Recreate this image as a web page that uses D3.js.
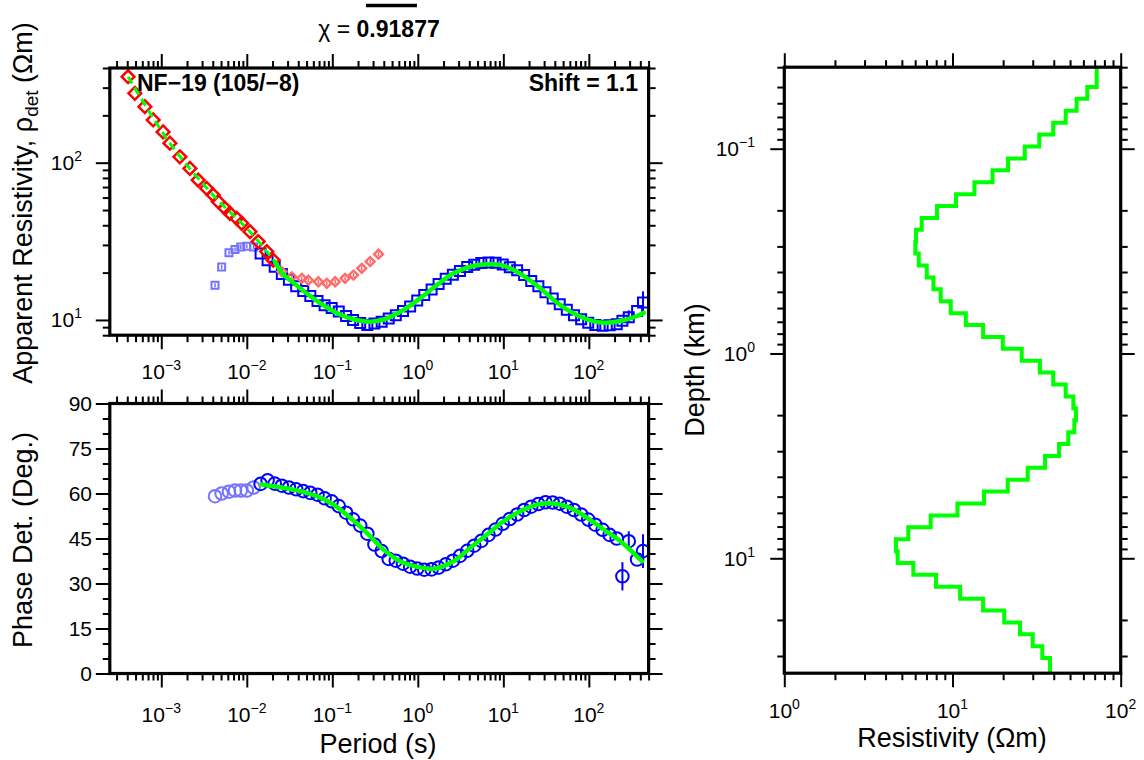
<!DOCTYPE html>
<html><head><meta charset="utf-8">
<script src="https://cdn.jsdelivr.net/npm/d3@7"></script>
<style>
body{margin:0;background:#fff}
svg text{font-family:"Liberation Sans",Arial,Helvetica,sans-serif;fill:#000}
</style>
</head><body>
<svg id="c" width="1144" height="760"></svg>
<script>
// ---------------- DATA ----------------
// Red (high-frequency, fitted) apparent resistivity diamonds
const redPeriods = [4.09e-4, 4.91e-4, 6.43e-4, 8.04e-4, 1.05e-3, 1.26e-3, 1.65e-3, 2.16e-3, 2.70e-3, 3.39e-3, 4.05e-3, 4.64e-3, 5.55e-3, 6.35e-3, 7.62e-3, 8.71e-3, 1.09e-2, 1.36e-2, 1.71e-2, 2.04e-2];
const redRho = [352, 276, 227, 187, 157, 133, 109, 92, 77.6, 68.7, 62.3, 56.5, 51.3, 47.7, 44.3, 41.2, 36.4, 31.5, 27.2, 24.0];
// Masked red diamonds
const salmonPeriods = [0.0257, 0.0336, 0.0440, 0.0525, 0.0687, 0.0862, 0.108, 0.141, 0.177, 0.221, 0.277, 0.347];
const salmonRho = [20.3, 18.8, 18.4, 17.9, 17.5, 17.1, 17.5, 18.4, 19.3, 21.3, 23.5, 26.2];
// Masked blue points
const lightPeriods = [4.25e-3, 5.08e-3, 6.19e-3, 7.28e-3, 8.5e-3, 1.0e-2, 1.2e-2];
const lightRho = [16.6, 21.7, 26.8, 28.1, 29.1, 29.4, 29.1];
const lightPhase = [59.1, 60.0, 60.6, 61.0, 61.0, 61.0, 62.0];
// Blue data
const bluePeriods = [0.0145, 0.0175, 0.0212, 0.0257, 0.0311, 0.0378, 0.0457, 0.0553, 0.0671, 0.0813, 0.0984,
  0.119, 0.145, 0.175, 0.212, 0.257, 0.311, 0.378, 0.457, 0.553, 0.671, 0.813, 0.984,
  1.19, 1.45, 1.75, 2.12, 2.57, 3.11, 3.78, 4.57, 5.53, 6.71, 8.13, 9.84,
  11.9, 14.5, 17.5, 21.2, 25.7, 31.1, 37.8, 45.7, 55.3, 67.1, 81.3, 98.4,
  119, 145, 175, 212, 247, 293, 367, 430];
const blueRho = [26.5, 24.0, 21.8, 19.6, 18.0, 16.4, 15.3, 14.2, 13.2, 12.4, 11.9,
  11.3, 10.6, 10.0, 9.55, 9.3, 9.5, 9.75, 10.2, 10.7, 11.4, 12.2, 13.3,
  14.4, 15.6, 16.9, 18.3, 19.4, 20.5, 21.7, 22.4, 23.0, 23.2, 23.1, 22.5,
  21.6, 20.7, 19.3, 17.7, 16.4, 15.0, 13.7, 12.6, 11.6, 10.7, 10.1, 9.6,
  9.3, 9.2, 9.25, 9.4, 9.9, 10.4, 11.4, 12.9];
const bluePhase = [63.2, 64.4, 63.3, 62.6, 62.0, 61.4, 60.8, 60.2, 59.6, 58.4, 57.4,
  55.8, 53.6, 51.4, 49.3, 46.6, 43.0, 40.8, 38.2, 37.6, 36.6, 35.6, 35.0,
  34.6, 34.7, 35.3, 36.4, 37.6, 39.2, 40.9, 42.6, 44.2, 46.2, 48.0, 49.9,
  51.5, 53.0, 54.5, 55.6, 56.5, 57.1, 57.0, 56.6, 55.6, 54.5, 53.0, 51.3,
  49.6, 47.9, 46.2, 45.0, 32.4, 44.1, 38.0, 40.8];
// Error bars
const rhoErrPeriods = [293, 430];
const rhoErrLow = [9.6, 11.0];
const rhoErrHigh = [11.5, 15.2];
const phaseErrPeriods = [247, 293, 430];
const phaseErrLow = [27.7, 40.8, 35.2];
const phaseErrHigh = [37.1, 47.4, 46.4];
// Model response curves
const modelDashPeriods = [4.09e-4, 1.26e-3, 4.02e-3, 0.0109, 0.0214];
const modelDashRho = [352, 133, 62.4, 36.4, 23.4];
const modelPeriods = [0.0214, 0.0265, 0.0367, 0.0549, 0.0719, 0.113, 0.177, 0.277, 0.435, 0.681, 1.07, 1.67, 2.62, 4.11, 6.44, 9.23, 13.2, 19.0, 27.1, 38.8, 60.9, 95.5, 149, 234, 368, 440];
const modelRho = [23.4, 19.6, 16.9, 14.2, 12.8, 11.08, 10.1, 9.75, 10.25, 11.58, 13.75, 16.7, 19.8, 21.8, 22.6, 22.4, 20.8, 18.4, 15.9, 13.4, 11.3, 10.1, 9.61, 9.85, 10.6, 11.1];
const modelPhasePeriods = [0.0149, 0.0267, 0.0419, 0.0659, 0.103, 0.162, 0.253, 0.397, 0.622, 0.976, 1.53, 2.62, 4.11, 6.44, 10.1, 15.8, 24.8, 38.8, 60.9, 95.5, 149, 234, 421];
const modelPhase = [63.0, 61.9, 60.8, 59.1, 56.3, 51.9, 46.9, 41.3, 37.4, 35.6, 34.9, 37.4, 41.9, 46.3, 50.8, 54.1, 56.3, 56.7, 55.2, 51.9, 48.0, 44.1, 37.4];
// Layered resistivity model (layer boundaries in km, resistivity per layer in Ohm-m)
const layerDepths = [0.050, 0.0571, 0.0653, 0.0747, 0.0853, 0.0975, 0.1116, 0.1276, 0.1459, 0.1667, 0.1905, 0.2178, 0.2489, 0.2845, 0.3252, 0.3718, 0.4254, 0.4862, 0.5559, 0.6353, 0.7261, 0.830, 0.9487, 1.084, 1.239, 1.418, 1.621, 1.853, 2.118, 2.421, 2.767, 3.163, 3.615, 4.13, 4.72, 5.40, 6.18, 7.06, 8.07, 9.23, 10.55, 12.05, 13.78, 15.75, 18.00, 20.57, 23.5, 26.9, 30.7];
const layerRho = [72, 63.3, 54.7, 47.1, 39.7, 32.8, 26.9, 21.4, 17.3, 13.5, 10.5, 8.09, 6.56, 6.07, 6.01, 6.3, 7.03, 7.70, 8.51, 9.76, 12.0, 15.2, 19.9, 25.8, 33.1, 39.7, 47.1, 52.3, 54.2, 53.0, 48.8, 43.0, 35.5, 28.0, 21.3, 15.4, 10.7, 7.42, 5.46, 4.61, 4.72, 5.85, 7.98, 11.1, 15.2, 20.3, 25.2, 30.0, 34.2, 38.0];
// Axes
const periodDomain = [2.5e-4, 500];
const rhoDomain = [8, 400];
const phaseDomain = [0, 90];
const phaseTicks = [0, 15, 30, 45, 60, 75, 90];
const modelRhoDomain = [1, 100];
const depthDomain = [0.04, 36.4];

// ---------------- DRAW ----------------
const svg = d3.select('#c');
const GREEN = '#00ff00', BLUE = '#0000ff', LBLUE = '#7373ff', RED = '#ff0000', SALMON = '#ff6a6a';

const x = d3.scaleLog().domain(periodDomain).range([109.8, 648.6]);
const yR = d3.scaleLog().domain(rhoDomain).range([335.2, 68]);
const yP = d3.scaleLinear().domain(phaseDomain).range([673.5, 403.5]);
const xM = d3.scaleLog().domain(modelRhoDomain).range([784.3, 1120.7]);
const yM = d3.scaleLog().domain(depthDomain).range([67.2, 673.2]);

const isMajor = v => Math.abs(Math.log10(v) - Math.round(Math.log10(v))) < 1e-6;
const supMap = n => (n < 0 ? '\u2212' + (-n) : '' + n);

function frameTicks(g, xs, ys, xTickVals, yTickVals, xMajorFn, yMajorFn, minorLen, majorLen) {
  const [x0, x1] = xs.range(), [y0, y1] = ys.range();
  const top = Math.min(y0, y1), bot = Math.max(y0, y1);
  const mkAxis = (fn, scale, vals, len, tr) => {
    const a = g.append('g').attr('transform', tr).call(fn(scale).tickValues(vals).tickSize(len).tickFormat(''));
    a.select('.domain').remove();
    a.selectAll('line').attr('stroke', '#000').attr('stroke-width', 2);
  };
  const xMin = xTickVals.filter(v => !xMajorFn(v)), xMaj = xTickVals.filter(xMajorFn);
  const yMin = yTickVals.filter(v => !yMajorFn(v)), yMaj = yTickVals.filter(yMajorFn);
  [[xMin, minorLen], [xMaj, majorLen]].forEach(([vals, len]) => {
    mkAxis(d3.axisTop, xs, vals, len, `translate(0,${top})`);
    mkAxis(d3.axisBottom, xs, vals, len, `translate(0,${bot})`);
  });
  [[yMin, minorLen], [yMaj, majorLen]].forEach(([vals, len]) => {
    mkAxis(d3.axisLeft, ys, vals, len, `translate(${Math.min(x0, x1)},0)`);
    mkAxis(d3.axisRight, ys, vals, len, `translate(${Math.max(x0, x1)},0)`);
  });
  g.append('rect').attr('x', Math.min(x0, x1)).attr('y', top)
    .attr('width', Math.abs(x1 - x0)).attr('height', bot - top)
    .attr('fill', 'none').attr('stroke', '#000').attr('stroke-width', 3.2);
}

function powLabel(g, px, py, v, anchor) {
  const e = Math.round(Math.log10(v));
  const t = g.append('text').attr('x', px).attr('y', py).attr('text-anchor', anchor)
    .attr('font-size', 21);
  t.append('tspan').text('10');
  t.append('tspan').attr('font-size', 14).attr('dy', -9).text(supMap(e));
}

function clip(id, x0, y0, w, h) {
  svg.append('clipPath').attr('id', id).append('rect').attr('x', x0).attr('y', y0).attr('width', w).attr('height', h);
  return svg.append('g').attr('clip-path', `url(#${id})`);
}

// ---- Panel 1: apparent resistivity ----
const gR = clip('cr', 110, 68, 539, 268);
const sq = (s) => d3.symbol(d3.symbolSquare, s)();
// light (masked) squares
gR.selectAll('.ls').data(lightPeriods).join('g')
  .attr('transform', (d, i) => `translate(${x(d)},${yR(lightRho[i])})`)
  .each(function () {
    const s = d3.select(this);
    s.append('path').attr('d', sq(49)).attr('fill', 'none').attr('stroke', LBLUE).attr('stroke-width', 2);
    s.append('line').attr('y1', -2).attr('y2', 2).attr('stroke', LBLUE).attr('stroke-width', 1.5);
  });
// blue squares
gR.selectAll('.bs').data(bluePeriods).join('path')
  .attr('d', sq(100)).attr('transform', (d, i) => `translate(${x(d)},${yR(blueRho[i])})`)
  .attr('fill', 'none').attr('stroke', BLUE).attr('stroke-width', 2);
// rho error bars
gR.selectAll('.re').data(rhoErrPeriods).join('line')
  .attr('x1', d => x(d)).attr('x2', d => x(d))
  .attr('y1', (d, i) => yR(rhoErrLow[i])).attr('y2', (d, i) => yR(rhoErrHigh[i]))
  .attr('stroke', BLUE).attr('stroke-width', 2);
// salmon diamonds
gR.selectAll('.sd').data(salmonPeriods).join('g')
  .attr('transform', (d, i) => `translate(${x(d)},${yR(salmonRho[i])})`)
  .each(function () {
    const s = d3.select(this);
    s.append('path').attr('d', sq(40)).attr('transform', 'rotate(45)').attr('fill', 'none').attr('stroke', SALMON).attr('stroke-width', 2.4);
    s.append('line').attr('y1', -2).attr('y2', 2).attr('stroke', SALMON).attr('stroke-width', 1.5);
  });
// red diamonds
gR.selectAll('.rd').data(redPeriods).join('path')
  .attr('d', sq(81)).attr('transform', (d, i) => `translate(${x(d)},${yR(redRho[i])}) rotate(45)`)
  .attr('fill', 'none').attr('stroke', RED).attr('stroke-width', 2.5);
// model curves
const lineR = d3.line().x(d => x(d[0])).y(d => yR(d[1])).curve(d3.curveCatmullRom);
gR.append('path').datum(modelDashPeriods.map((p, i) => [p, modelDashRho[i]]))
  .attr('d', lineR).attr('fill', 'none').attr('stroke', GREEN).attr('stroke-width', 3).attr('stroke-dasharray', '8,5');
gR.append('path').datum(modelPeriods.map((p, i) => [p, modelRho[i]]))
  .attr('d', lineR).attr('fill', 'none').attr('stroke', GREEN).attr('stroke-width', 4.5).attr('stroke-linecap', 'round');

const gRa = svg.append('g');
frameTicks(gRa, x, yR, x.ticks(), yR.ticks(), isMajor, isMajor, 7, 14);
x.ticks().filter(isMajor).forEach(v => powLabel(gRa, x(v), 379, v, 'middle'));
yR.ticks().filter(isMajor).forEach(v => powLabel(gRa, 82, yR(v) + 7.5, v, 'end'));

// ---- Panel 2: phase ----
const gP = clip('cp', 110, 404, 539, 270);
gP.selectAll('.lc').data(lightPeriods).join('circle')
  .attr('cx', d => x(d)).attr('cy', (d, i) => yP(lightPhase[i])).attr('r', 6.3)
  .attr('fill', 'none').attr('stroke', LBLUE).attr('stroke-width', 2);
gP.selectAll('.bc').data(bluePeriods).join('circle')
  .attr('cx', d => x(d)).attr('cy', (d, i) => yP(bluePhase[i])).attr('r', 6.3)
  .attr('fill', 'none').attr('stroke', BLUE).attr('stroke-width', 2);
gP.selectAll('.pe').data(phaseErrPeriods).join('line')
  .attr('x1', d => x(d)).attr('x2', d => x(d))
  .attr('y1', (d, i) => yP(phaseErrLow[i])).attr('y2', (d, i) => yP(phaseErrHigh[i]))
  .attr('stroke', BLUE).attr('stroke-width', 2);
gP.append('path').datum(modelPhasePeriods.map((p, i) => [p, modelPhase[i]]))
  .attr('d', d3.line().x(d => x(d[0])).y(d => yP(d[1])).curve(d3.curveCatmullRom))
  .attr('fill', 'none').attr('stroke', GREEN).attr('stroke-width', 4.5).attr('stroke-linecap', 'round');

const gPa = svg.append('g');
const phaseAll = d3.range(0, 91, 5);
frameTicks(gPa, x, yP, x.ticks(), phaseAll, isMajor, v => phaseTicks.includes(v), 7, 14);
x.ticks().filter(isMajor).forEach(v => powLabel(gPa, x(v), 722, v, 'middle'));
phaseTicks.forEach(v => gPa.append('text').attr('x', 92).attr('y', yP(v) + 7.5)
  .attr('text-anchor', 'end').attr('font-size', 21).text(v));

// ---- Panel 3: model ----
const gM = clip('cm', 784, 67, 337, 607);
const stepPts = [];
layerRho.forEach((r, i) => {
  const top = i === 0 ? depthDomain[0] : layerDepths[i - 1];
  const bot = i === layerRho.length - 1 ? depthDomain[1] : layerDepths[i];
  stepPts.push([r, top], [r, bot]);
});
gM.append('path').datum(stepPts)
  .attr('d', d3.line().x(d => xM(d[0])).y(d => yM(d[1])))
  .attr('fill', 'none').attr('stroke', GREEN).attr('stroke-width', 4).attr('stroke-linejoin', 'miter');

const gMa = svg.append('g');
frameTicks(gMa, xM, yM, xM.ticks(), yM.ticks(), isMajor, isMajor, 7, 14);
xM.ticks().filter(isMajor).forEach(v => powLabel(gMa, xM(v), 718, v, 'middle'));
yM.ticks().filter(isMajor).forEach(v => powLabel(gMa, 755, yM(v) + 7.5, v, 'end'));

// ---- Titles / labels ----
const T = svg.append('g');
const chi = T.append('text').attr('x', 379).attr('y', 37).attr('text-anchor', 'middle').attr('font-size', 23);
chi.append('tspan').text('\u03c7 = ');
chi.append('tspan').attr('font-weight', 'bold').text('0.91877');
T.append('line').attr('x1', 366).attr('x2', 417).attr('y1', 5.5).attr('y2', 5.5).attr('stroke', '#000').attr('stroke-width', 3.5);

T.append('text').attr('x', 137).attr('y', 91).attr('font-size', 23).attr('font-weight', 'bold').text('NF\u221219 (105/\u22128)');
T.append('text').attr('x', 638).attr('y', 91).attr('font-size', 23).attr('font-weight', 'bold').attr('text-anchor', 'end').text('Shift = 1.1');

T.append('text').attr('x', 378).attr('y', 753).attr('text-anchor', 'middle').attr('font-size', 27).text('Period (s)');
T.append('text').attr('x', 952).attr('y', 747).attr('text-anchor', 'middle').attr('font-size', 27).text('Resistivity (\u03a9m)');

const yt = T.append('text').attr('transform', 'translate(32,203) rotate(-90)').attr('text-anchor', 'middle').attr('font-size', 27);
yt.append('tspan').text('Apparent Resistivity, \u03c1');
yt.append('tspan').attr('font-size', 19).attr('dy', 6).text('det');
yt.append('tspan').attr('dy', -6).text(' (\u03a9m)');
T.append('text').attr('transform', 'translate(32,540) rotate(-90)').attr('text-anchor', 'middle').attr('font-size', 27).text('Phase Det. (Deg.)');
T.append('text').attr('transform', 'translate(704,370) rotate(-90)').attr('text-anchor', 'middle').attr('font-size', 27).text('Depth (km)');
</script>
</body></html>
